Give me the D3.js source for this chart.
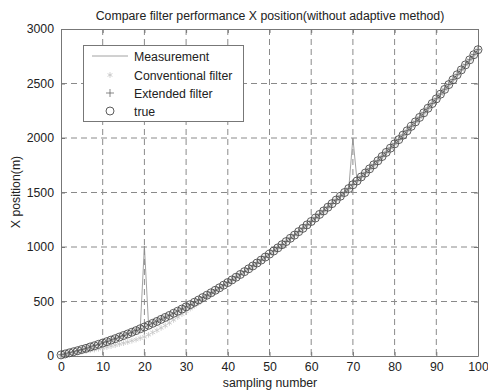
<!DOCTYPE html>
<html>
<head>
<meta charset="utf-8">
<script src="https://cdn.jsdelivr.net/npm/d3@7"></script>
<style>
  body { margin: 0; background: #fff; }
  svg { display: block; font-family: "Liberation Sans", Arial, sans-serif; }
</style>
</head>
<body>
<svg id="chart" width="488" height="391"></svg>
<script>
// sample indices 0..100
const samples = d3.range(0, 101);

const trueX = [10, 19, 29, 39, 49, 60, 70, 83, 94, 107,
  119, 132, 146, 159, 174, 188, 202, 218, 233, 250,
  266, 282, 300, 317, 336, 354, 372, 392, 411, 431,
  451, 471, 493, 514, 536, 558, 580, 603, 626, 650,
  674, 698, 723, 748, 774, 800, 826, 853, 880, 908,
  935, 963, 992, 1021, 1050, 1080, 1109, 1141, 1171, 1203,
  1234, 1266, 1299, 1331, 1365, 1398, 1431, 1466, 1500, 1536,
  1571, 1606, 1643, 1679, 1717, 1754, 1791, 1830, 1868, 1907,
  1946, 1985, 2026, 2066, 2107, 2148, 2189, 2231, 2273, 2316,
  2359, 2402, 2446, 2490, 2535, 2580, 2625, 2671, 2717, 2764,
  2810];

const measurement = [12, 17, 31, 37, 51, 58, 72, 81, 96, 105,
  121, 130, 148, 157, 176, 186, 204, 216, 235, 248,
  1010, 280, 302, 315, 338, 352, 374, 390, 413, 429,
  453, 469, 495, 512, 538, 556, 582, 601, 628, 648,
  676, 696, 725, 746, 776, 798, 828, 851, 882, 906,
  937, 961, 994, 1019, 1052, 1078, 1111, 1139, 1173, 1201,
  1236, 1264, 1301, 1329, 1367, 1396, 1433, 1464, 1502, 1534,
  2000, 1604, 1645, 1677, 1719, 1752, 1793, 1828, 1870, 1905,
  1948, 1983, 2028, 2064, 2109, 2146, 2191, 2229, 2275, 2314,
  2361, 2400, 2448, 2488, 2537, 2578, 2627, 2669, 2719, 2762,
  2812];

const conventional = [5, 11, 18, 25, 32, 40, 45, 53, 59, 67,
  74, 82, 91, 99, 109, 118, 128, 140, 151, 164,
  176, 195, 216, 236, 258, 279, 304, 331, 357, 384,
  411, 435, 461, 487, 514, 543, 568, 594, 620, 647,
  674, 698, 723, 748, 774, 800, 826, 853, 880, 908,
  935, 963, 992, 1021, 1050, 1080, 1109, 1141, 1171, 1203,
  1234, 1266, 1299, 1331, 1365, 1398, 1431, 1466, 1500, 1536,
  1571, 1606, 1643, 1679, 1717, 1754, 1791, 1830, 1868, 1907,
  1946, 1985, 2026, 2066, 2107, 2148, 2189, 2231, 2273, 2316,
  2359, 2402, 2446, 2490, 2535, 2580, 2625, 2671, 2717, 2764,
  2810];

const extended = [11, 19, 30, 39, 50, 60, 71, 83, 95, 107,
  120, 132, 147, 159, 175, 188, 203, 218, 234, 250,
  268, 284, 301, 318, 337, 355, 373, 393, 412, 432,
  452, 472, 494, 515, 537, 559, 581, 604, 627, 651,
  675, 699, 724, 749, 775, 801, 827, 854, 881, 909,
  936, 964, 993, 1022, 1051, 1081, 1110, 1142, 1172, 1204,
  1235, 1267, 1300, 1332, 1366, 1399, 1432, 1467, 1501, 1537,
  1573, 1608, 1644, 1680, 1718, 1755, 1792, 1831, 1869, 1908,
  1947, 1986, 2027, 2067, 2108, 2149, 2190, 2232, 2274, 2317,
  2360, 2403, 2447, 2491, 2536, 2581, 2626, 2672, 2718, 2765,
  2811];

const xTicks = [0, 10, 20, 30, 40, 50, 60, 70, 80, 90, 100];
const yTicks = [0, 500, 1000, 1500, 2000, 2500, 3000];
const legendLabels = ["Measurement", "Conventional filter", "Extended filter", "true"];

const plotLeft = 61, plotRight = 478, plotTop = 29, plotBottom = 356;

const svg = d3.select('#chart');

const x = d3.scaleLinear().domain([0, 100]).range([plotLeft, plotRight]);
const y = d3.scaleLinear().domain([0, 3000]).range([plotBottom, plotTop]);

// grid
const grid = svg.append('g').attr('stroke', '#8a8a8a').attr('stroke-width', 1)
  .attr('stroke-dasharray', '6,4');
grid.selectAll('.gx').data(xTicks.slice(1, -1)).join('line')
  .attr('x1', d => x(d)).attr('x2', d => x(d))
  .attr('y1', plotTop).attr('y2', plotBottom);
grid.selectAll('.gy').data(yTicks.slice(1, -1)).join('line')
  .attr('x1', plotLeft).attr('x2', plotRight)
  .attr('y1', d => y(d)).attr('y2', d => y(d));

// axes, matlab style box with inward ticks
function styleAxis(g) {
  g.select('.domain').attr('stroke', '#777');
  g.selectAll('.tick line').attr('stroke', '#777');
  g.selectAll('.tick text').attr('fill', '#222').attr('font-size', 12.3)
    .attr('font-family', '"Liberation Sans", Arial, sans-serif');
}

svg.append('g').attr('transform', `translate(0,${plotBottom})`)
  .call(d3.axisBottom(x).tickValues(xTicks).tickFormat(d3.format('d'))
    .tickSizeInner(-4).tickSizeOuter(0).tickPadding(6))
  .call(styleAxis);
svg.append('g').attr('transform', `translate(0,${plotTop})`)
  .call(d3.axisTop(x).tickValues(xTicks).tickSizeInner(-4).tickSizeOuter(0).tickFormat(''))
  .call(styleAxis);
svg.append('g').attr('transform', `translate(${plotLeft},0)`)
  .call(d3.axisLeft(y).tickValues(yTicks).tickFormat(d3.format('d'))
    .tickSizeInner(-4).tickSizeOuter(0).tickPadding(7))
  .call(styleAxis);
svg.append('g').attr('transform', `translate(${plotRight},0)`)
  .call(d3.axisRight(y).tickValues(yTicks).tickSizeInner(-4).tickSizeOuter(0).tickFormat(''))
  .call(styleAxis);

// measurement line
svg.append('path')
  .datum(samples)
  .attr('fill', 'none')
  .attr('stroke', '#8c8c8c')
  .attr('stroke-width', 0.8)
  .attr('d', d3.line().x(i => x(i)).y(i => y(measurement[i])));

// conventional filter: light asterisks
const star = d3.symbol().type(d3.symbolAsterisk).size(22);
svg.append('g').selectAll('path').data(samples).join('path')
  .attr('transform', i => `translate(${x(i)},${y(conventional[i])})`)
  .attr('d', star())
  .attr('fill', 'none')
  .attr('stroke', '#c4c4c4')
  .attr('stroke-width', 0.8);

// true: circles
svg.append('g').selectAll('circle').data(samples).join('circle')
  .attr('cx', i => x(i))
  .attr('cy', i => y(trueX[i]))
  .attr('r', 4)
  .attr('fill', 'none')
  .attr('stroke', '#4a4a4a')
  .attr('stroke-width', 0.9);

// extended filter: plus
svg.append('g').selectAll('path').data(samples).join('path')
  .attr('transform', i => `translate(${x(i)},${y(extended[i])})`)
  .attr('d', 'M-3,0H3M0,-3V3')
  .attr('fill', 'none')
  .attr('stroke', '#555')
  .attr('stroke-width', 0.7);

// legend
const lg = svg.append('g');
lg.append('rect').attr('x', 83.5).attr('y', 45.5).attr('width', 160).attr('height', 76)
  .attr('fill', '#fff').attr('stroke', '#777');
const rowY = [56, 75, 93, 111];
lg.append('line').attr('x1', 92).attr('x2', 128).attr('y1', rowY[0]).attr('y2', rowY[0])
  .attr('stroke', '#8c8c8c').attr('stroke-width', 0.8);
lg.append('path').attr('transform', `translate(110,${rowY[1]})`).attr('d', star())
  .attr('fill', 'none').attr('stroke', '#c4c4c4').attr('stroke-width', 0.8);
lg.append('path').attr('transform', `translate(110,${rowY[2]})`).attr('d', 'M-4,0H4M0,-4V4')
  .attr('fill', 'none').attr('stroke', '#555').attr('stroke-width', 0.7);
lg.append('circle').attr('cx', 110).attr('cy', rowY[3]).attr('r', 4)
  .attr('fill', 'none').attr('stroke', '#4a4a4a').attr('stroke-width', 0.9);
lg.selectAll('text').data(legendLabels).join('text')
  .attr('x', 134).attr('y', (d, i) => rowY[i] + 4.5)
  .attr('font-size', 12.3).attr('fill', '#222').text(d => d);

// title and labels
svg.append('text').attr('x', 270).attr('y', 20).attr('text-anchor', 'middle')
  .attr('font-size', 12.3).attr('fill', '#222')
  .text('Compare filter performance X position(without adaptive method)');
svg.append('text').attr('x', 270).attr('y', 387).attr('text-anchor', 'middle')
  .attr('font-size', 12.3).attr('fill', '#222').text('sampling number');
svg.append('text').attr('transform', 'translate(20,192) rotate(-90)')
  .attr('text-anchor', 'middle').attr('font-size', 12.3).attr('fill', '#222')
  .text('X position(m)');
</script>
</body>
</html>
